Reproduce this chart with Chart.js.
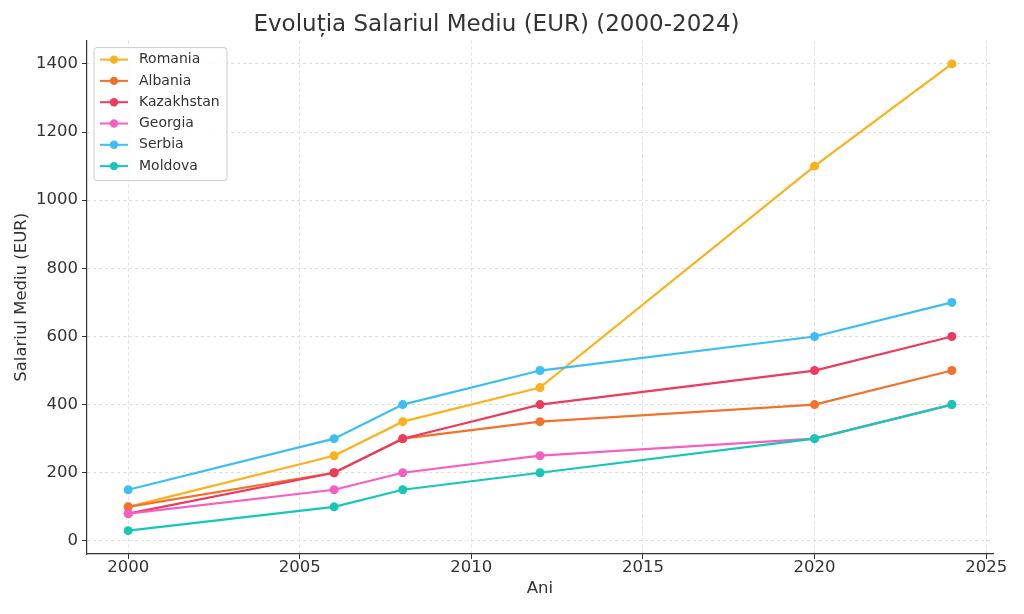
<!DOCTYPE html>
<html>
<head>
<meta charset="utf-8">
<script src="https://cdn.jsdelivr.net/npm/chart.js@4"></script>
<style>
  html, body { margin: 0; padding: 0; background: #fff; }
  #wrap { width: 1024px; height: 614px; position: relative; }
</style>
</head>
<body>
<div id="wrap"><canvas id="myChart"></canvas></div>
<script>
// data
const years = [2000, 2006, 2008, 2012, 2020, 2024];
const romania = [100, 250, 350, 450, 1100, 1400];
const albania = [100, 200, 300, 350, 400, 500];
const kazakhstan = [80, 200, 300, 400, 500, 600];
const georgia = [80, 150, 200, 250, 300, 400];
const serbia = [150, 300, 400, 500, 600, 700];
const moldova = [30, 100, 150, 200, 300, 400];
const xTicks = [2000, 2005, 2010, 2015, 2020, 2025];
const yTicks = [0, 200, 400, 600, 800, 1000, 1200, 1400];

const seriesList = [
    { name: 'Romania', values: romania, color: '#fbb11c' },
    { name: 'Albania', values: albania, color: '#f2722c' },
    { name: 'Kazakhstan', values: kazakhstan, color: '#ee3a5c' },
    { name: 'Georgia', values: georgia, color: '#f55fc3' },
    { name: 'Serbia', values: serbia, color: '#3cbef5' },
    { name: 'Moldova', values: moldova, color: '#15c7b6' }
];

const FONT = "'DejaVu Sans', sans-serif";

// legend box drawn inside the plot, like the original
const boxLegend = {
    id: 'boxLegend',
    afterDraw(chart) {
        const ctx = chart.ctx;
        const area = chart.chartArea;
        const x0 = area.left + 7, y0 = area.top + 7;
        const w = 133, h = 133, rowH = 21.3;
        ctx.save();
        ctx.fillStyle = 'rgba(255,255,255,0.85)';
        ctx.strokeStyle = '#cccccc';
        ctx.lineWidth = 1;
        ctx.beginPath();
        ctx.roundRect(x0, y0, w, h, 3);
        ctx.fill();
        ctx.stroke();
        ctx.font = '14px ' + FONT;
        ctx.textBaseline = 'middle';
        seriesList.forEach((s, i) => {
            const cy = y0 + 12 + i * rowH;
            ctx.strokeStyle = s.color;
            ctx.lineWidth = 2;
            ctx.beginPath();
            ctx.moveTo(x0 + 6, cy);
            ctx.lineTo(x0 + 34, cy);
            ctx.stroke();
            ctx.fillStyle = s.color;
            ctx.beginPath();
            ctx.arc(x0 + 20, cy, 4.2, 0, Math.PI * 2);
            ctx.fill();
            ctx.fillStyle = '#333333';
            ctx.fillText(s.name, x0 + 45, cy);
        });
        ctx.restore();
    }
};

const ctx = document.getElementById('myChart').getContext('2d');
const myChart = new Chart(ctx, {
    type: 'line',
    data: {
        datasets: seriesList.map((s, i) => ({
            label: s.name,
            data: years.map((yr, j) => ({ x: yr, y: s.values[j] })),
            borderColor: s.color,
            backgroundColor: s.color,
            borderWidth: 2.2,
            pointRadius: 4.5,
            pointHoverRadius: 4.5,
            pointBorderWidth: 0,
            tension: 0,
            order: seriesList.length - i // later series on top, like matplotlib
        }))
    },
    options: {
        responsive: true,
        maintainAspectRatio: false,
        animation: false,
        layout: { padding: { left: 0, right: 31, top: 0, bottom: 0 } },
        plugins: {
            legend: { display: false },
            tooltip: { enabled: false },
            title: {
                display: true,
                text: 'Evoluția Salariul Mediu (EUR) (2000-2024)',
                color: '#333333',
                font: { family: FONT, size: 23, weight: 'normal' },
                padding: { top: 11, bottom: 2 }
            }
        },
        scales: {
            x: {
                type: 'linear',
                min: 1998.8,
                max: 2025.2,
                afterBuildTicks: axis => { axis.ticks = xTicks.map(v => ({ value: v })); },
                afterFit: axis => { axis.height = 60; },
                ticks: {
                    color: '#333333',
                    font: { family: FONT, size: 16.5 },
                    padding: -1,
                    maxRotation: 0,
                    callback: v => String(v)
                },
                grid: {
                    color: '#dddddd',
                    tickColor: '#333333',
                    tickLength: 5,
                    tickBorderDash: []
                },
                border: { color: '#333333', width: 1.2, dash: [3, 3] },
                title: {
                    display: true,
                    text: 'Ani',
                    color: '#333333',
                    font: { family: FONT, size: 16.5 },
                    padding: { top: 0, bottom: 15 }
                }
            },
            y: {
                min: -38.5,
                max: 1468.5,
                afterBuildTicks: axis => { axis.ticks = yTicks.map(v => ({ value: v })); },
                afterFit: axis => { axis.width = 87; },
                ticks: {
                    color: '#333333',
                    font: { family: FONT, size: 16.5 },
                    padding: 4,
                    callback: v => String(v)
                },
                grid: {
                    color: '#dddddd',
                    tickColor: '#333333',
                    tickLength: 5,
                    tickBorderDash: []
                },
                border: { color: '#333333', width: 1.2, dash: [3, 3] },
                title: {
                    display: true,
                    text: 'Salariul Mediu (EUR)',
                    color: '#333333',
                    font: { family: FONT, size: 16.5 },
                    padding: { top: 12, bottom: 0 }
                }
            }
        }
    },
    plugins: [boxLegend]
});
</script>
</body>
</html>
